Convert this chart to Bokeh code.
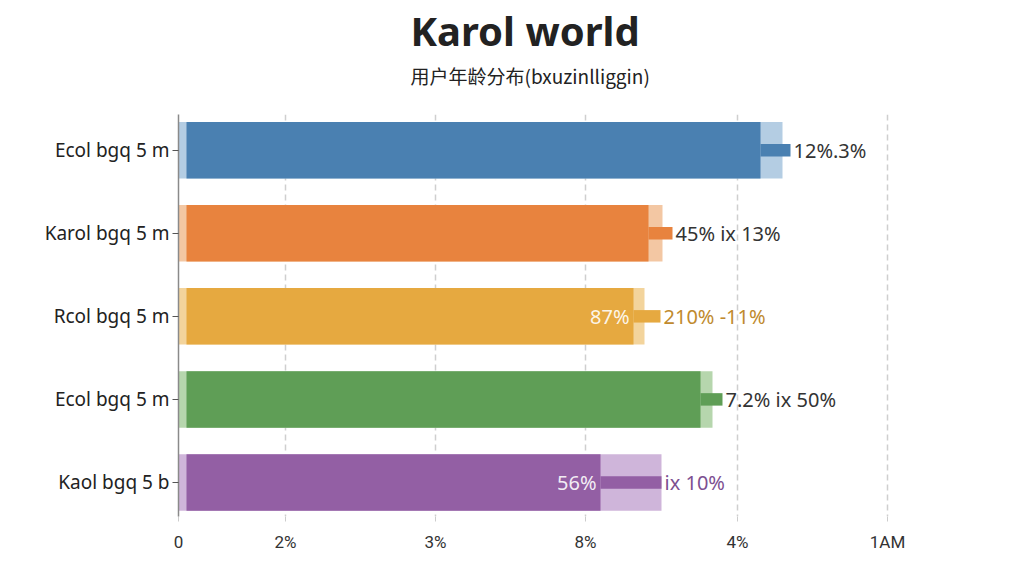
from bokeh.plotting import figure
from bokeh.models import Range1d, FixedTicker, Title, ColumnDataSource
from bokeh.core.properties import value
from bokeh.embed import file_html
from bokeh.resources import INLINE

# rows, top to bottom
groups = ["Ecol bgq 5 m", "Karol bgq 5 m", "Rcol bgq 5 m", "Ecol bgq 5 m", "Kaol bgq 5 b"]
light_vals = [604, 484, 466, 534, 483]
dark_vals = [582, 470, 455, 522, 422]
tail_vals = [612, 494, 482, 544, 483]
value_labels = ["12%.3%", "45% ix 13%", "210% -11%", "7.2% ix 50%", "ix 10%"]
inner_labels = ["", "", "87%", "", "56%"]

tick_vals = [0, 107, 257, 407, 559, 709]
tick_labels = ["0", "2%", "3%", "8%", "4%", "1AM"]

dark_colors = ["#4a80b1", "#e8833e", "#e6a940", "#5f9e56", "#935fa4"]
light_colors = ["#b4cde3", "#f3c7a3", "#f3d49c", "#b6d6ad", "#cfb5da"]
label_colors = ["#333333", "#333333", "#c08a2e", "#333333", "#7d4f91"]

idx = list(range(len(groups)))
src = ColumnDataSource(dict(
    y=idx, light=light_vals, dark=dark_vals, tail=tail_vals,
    lbl=value_labels, inner=inner_labels,
    dc=dark_colors, lc=light_colors, tc=label_colors,
))

p = figure(width=1008, height=566, output_backend="svg", toolbar_location=None,
           x_range=Range1d(0, 727), y_range=Range1d(4.41, -0.43),
           min_border_left=178, min_border_right=103, min_border_bottom=50,
           min_border_top=3)
p.outline_line_color = None
p.background_fill_color = "white"

# empty spacer between subtitle and plot area
p.add_layout(Title(text=" ", standoff=0, text_font_size="20px"), "above")
p.add_layout(Title(text="用户年龄分布(bxuzinlliggin)", align="left", offset=232,
                   standoff=4,
                   text_font="Noto Sans CJK SC", text_font_size="19px",
                   text_font_style="normal", text_color="#222222"), "above")
p.add_layout(Title(text="Karol world", align="left", offset=232, standoff=0,
                   text_font="Noto Sans", text_font_size="40px",
                   text_font_style="bold", text_color="#222222"), "above")

p.hbar(y="y", left=0, right="light", height=0.68, source=src,
       fill_color="lc", line_color=None)
p.hbar(y="y", left=8, right="dark", height=0.68, source=src,
       fill_color="dc", line_color=None)
p.hbar(y="y", left="dark", right="tail", height=0.15, source=src,
       fill_color="dc", line_color=None)

p.text(x="tail", y="y", text="lbl", source=src, x_offset=3,
       text_align="left", text_baseline="middle", text_color="tc",
       text_font=value("Noto Sans"), text_font_size="20px")
p.text(x="dark", y="y", text="inner", source=src, x_offset=-4,
       text_align="right", text_baseline="middle", text_color="white",
       text_alpha=0.9, text_font=value("Noto Sans"), text_font_size="20px")

p.xaxis.ticker = FixedTicker(ticks=tick_vals)
p.xaxis.major_label_overrides = dict(zip(tick_vals, tick_labels))
p.xaxis.axis_line_color = None
p.xaxis.major_tick_line_color = "#cccccc"
p.xaxis.major_tick_in = 0
p.xaxis.major_tick_out = 5
p.xaxis.minor_tick_line_color = None
p.xaxis.major_label_standoff = 10
p.xaxis.major_label_text_font = "Roboto"
p.xaxis.major_label_text_font_size = "17px"
p.xaxis.major_label_text_color = "#333333"

p.yaxis.ticker = FixedTicker(ticks=idx)
p.yaxis.major_label_overrides = dict(zip(idx, groups))
p.yaxis.axis_line_color = "#8a8a8a"
p.yaxis.axis_line_width = 1.5
p.yaxis.major_tick_line_color = "#555555"
p.yaxis.major_tick_in = 0
p.yaxis.major_tick_out = 6
p.yaxis.minor_tick_line_color = None
p.yaxis.major_label_standoff = 3
p.yaxis.major_label_text_font = "Noto Sans"
p.yaxis.major_label_text_font_size = "19px"
p.yaxis.major_label_text_color = "#222222"

p.ygrid.grid_line_color = None
p.xgrid.ticker = FixedTicker(ticks=tick_vals[1:])
p.xgrid.grid_line_color = "#cfcfcf"
p.xgrid.grid_line_dash = "6 4"
p.xgrid.grid_line_width = 1.5

open("out.html", "w").write(file_html(p, INLINE))
